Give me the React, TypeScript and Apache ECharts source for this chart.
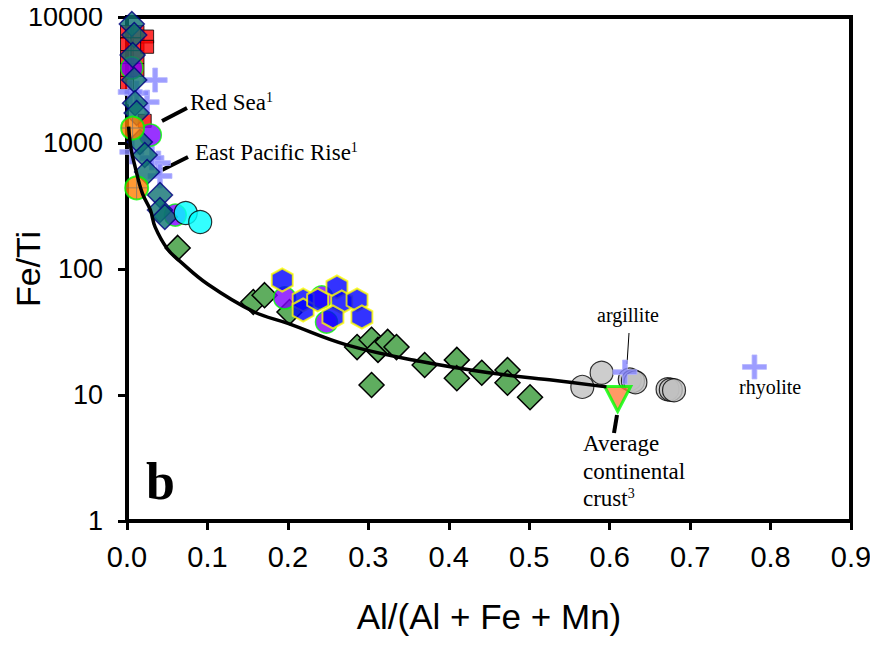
import React, { useEffect, useRef } from "react";
import * as echarts from "echarts";

// Tick labels
const xTicks = [0, 0.1, 0.2, 0.3, 0.4, 0.5, 0.6, 0.7, 0.8, 0.9];
const yTicks = [1, 10, 100, 1000, 10000];

// Mixing curve
const mixingCurve: number[][] = [
  [0.002, 1350], [0.005, 900], [0.010, 650], [0.019, 400], [0.029, 294], [0.035, 215],
  [0.05, 145], [0.066, 115], [0.1, 76], [0.157, 46], [0.2, 37], [0.273, 25],
  [0.364, 18.5], [0.45, 15], [0.525, 13.2], [0.596, 11.6],
];

const redSquares: number[][] = [
  [0, 7600], [0, 6100], [0, 4800], [0, 3800], [0, 3000],
  [0.013, 7600], [0.013, 6100], [0.013, 4800], [0.013, 3800],
  [0.025, 7000], [0.025, 5800], [0.022, 1500],
];

const blueCrosses: number[][] = [
  [0.035, 3160], [0.025, 2110], [0.012, 2490], [0.004, 2540],
  [0.039, 693], [0.041, 547], [0.031, 760], [0.006, 849],
];

const argilliteRhyolite: number[][] = [[0.619, 15.2], [0.78, 16.7]];

const purpleCircles: number[][] = [
  [0.006, 3940], [0.029, 1157], [0.060, 268],
  [0.196, 58.9], [0.242, 60], [0.248, 37.9],
];

const greenDiamonds: number[][] = [
  [0.063, 147], [0.157, 54.7], [0.171, 62], [0.202, 45.6],
  [0.286, 24], [0.304, 27.4], [0.312, 22.8], [0.324, 26.4], [0.335, 24],
  [0.304, 12], [0.370, 17.3], [0.410, 19], [0.410, 13.6], [0.441, 15],
  [0.473, 15.8], [0.473, 12.5], [0.501, 9.6],
];

const tealDiamonds: number[][] = [
  [0.006, 8800], [0.009, 7200], [0.007, 4990], [0.009, 3160], [0.010, 2070],
  [0.012, 1730], [0.016, 1020], [0.022, 804], [0.025, 589], [0.041, 386],
  [0.041, 294], [0.047, 259],
];

const cyanCircles: number[][] = [[0.073, 278], [0.091, 236]];

const orangeCircles: number[][] = [[0.007, 1315], [0.012, 440]];

const blueHexagons: number[][] = [
  [0.193, 81.8], [0.219, 56.8], [0.219, 47.3], [0.237, 56.8], [0.261, 72],
  [0.267, 54.7], [0.256, 41.6], [0.286, 56.8], [0.292, 41.6],
];

const grayCircles: number[][] = [
  [0.566, 11.6], [0.59, 15], [0.625, 13.3], [0.629, 12.9], [0.632, 12.6],
  [0.672, 11.1], [0.676, 11.0], [0.68, 10.9],
];

const crustTriangle: number[][] = [[0.61, 9.3]];

const SANS = "'Liberation Sans', Arial, sans-serif";
const SERIF = "'Liberation Serif', 'Times New Roman', serif";

const plusPath = "path://M4,0H6V4H10V6H6V10H4V6H0V4H4Z";
const thinPlusPath = "path://M9.6,0H10.4V20H9.6Z M0,9.6H20V10.4H0Z";
const hexPath = "path://M10,0L20,5.5L20,16.5L10,22L0,16.5L0,5.5Z";

export default function App() {
  const ref = useRef<HTMLDivElement>(null);
  useEffect(() => {
    if (!ref.current) return;
    const chart = echarts.init(ref.current, null, { renderer: "svg" });
    const sc = (name: string, data: number[][], symbol: string, size: any, item: any, extra: any = {}) => ({
      type: "scatter",
      name,
      data,
      symbol,
      symbolSize: size,
      itemStyle: item,
      clip: false,
      emphasis: { disabled: true },
      ...extra,
    });
    chart.setOption({
      animation: false,
      grid: {
        left: 127, right: 27, top: 17, bottom: 124,
        show: true, borderColor: "#000", borderWidth: 4,
        outerBoundsMode: "none",
      },
      xAxis: {
        type: "value", min: 0, max: 0.9, interval: 0.1,
        name: "Al/(Al + Fe + Mn)", nameLocation: "middle", nameGap: 78,
        nameMoveOverlap: false,
        nameTextStyle: { fontSize: 35, fontFamily: SANS, color: "#000" },
        axisLine: { show: true, onZero: false, lineStyle: { color: "#000", width: 4 } },
        axisTick: { show: true, inside: false, length: 9, lineStyle: { color: "#000", width: 3 } },
        axisLabel: {
          fontSize: 29, fontFamily: SANS, color: "#000", margin: 21,
          showMaxLabel: true, hideOverlap: false,
          formatter: (v: number) => (xTicks.includes(Math.round(v * 10) / 10) ? v.toFixed(1) : ""),
        },
        splitLine: { show: false },
      },
      yAxis: {
        type: "log", logBase: 10, min: yTicks[0], max: yTicks[yTicks.length - 1],
        name: "Fe/Ti", nameLocation: "middle", nameGap: 82,
        nameMoveOverlap: false,
        nameTextStyle: { fontSize: 34, fontFamily: SANS, color: "#000" },
        axisLine: { show: true, lineStyle: { color: "#000", width: 4 } },
        axisTick: { show: true, inside: false, length: 9, lineStyle: { color: "#000", width: 3 } },
        axisLabel: {
          fontSize: 27, fontFamily: SANS, color: "#000", margin: 24,
          formatter: (v: number) => String(Math.round(v)),
        },
        splitLine: { show: false },
        minorTick: { show: false },
      },
      series: [
        sc("red", redSquares, "rect", 13, { color: "#ff0000", borderColor: "#000", borderWidth: 1 }),
        sc("cross", blueCrosses, plusPath, 24, { color: "#8484ff", borderColor: "#b4b4ff", borderWidth: 1 }),
        sc("green", greenDiamonds, "diamond", 25, { color: "#5fad5f", borderColor: "#000", borderWidth: 1.5, opacity: 1 }),
        sc("purple", purpleCircles, "circle", 22, { color: "#8000ff", borderColor: "#00ff00", borderWidth: 1.5 }),
        sc("teal", tealDiamonds, "diamond", 25, { color: "#0e7272", borderColor: "#000080", borderWidth: 1.5 }),
        sc("cyan", cyanCircles, "circle", 23, { color: "#00ffff", borderColor: "#000", borderWidth: 1.2 }),
        sc("orange", orangeCircles, "circle", 23, { color: "#ff8000", borderColor: "#00ff00", borderWidth: 2 }),
        sc("orangeCross", orangeCircles, thinPlusPath, 22, { color: "#707070" }),
        sc("hex", blueHexagons, hexPath, [21, 23], { color: "#0000ff", borderColor: "#ffff00", borderWidth: 2 }),
        sc("gray", grayCircles, "circle", 23, { color: "#c0c0c0", borderColor: "#000", borderWidth: 1.2 }),
        sc("argRhy", argilliteRhyolite, plusPath, 24, { color: "#8484ff", borderColor: "#b4b4ff", borderWidth: 1 }),
        sc("crust", crustTriangle, "triangle", [26, 25], { color: "#ff7f3f", borderColor: "#00ff00", borderWidth: 3 }, { symbolRotate: 180 }),
        {
          type: "line", name: "mixing", data: mixingCurve, smooth: 0.4, showSymbol: false, symbol: "none",
          lineStyle: { color: "#000", width: 3.5 }, z: 5, emphasis: { disabled: true },
        },
      ],
      graphic: [
        { type: "line", shape: { x1: 162, y1: 121, x2: 187, y2: 108 }, style: { stroke: "#000", lineWidth: 4 } },
        { type: "line", shape: { x1: 162, y1: 170, x2: 188, y2: 157 }, style: { stroke: "#000", lineWidth: 4 } },
        { type: "line", shape: { x1: 629, y1: 333, x2: 627, y2: 364 }, style: { stroke: "#000", lineWidth: 1 } },
        { type: "line", shape: { x1: 617, y1: 415, x2: 614, y2: 433 }, style: { stroke: "#000", lineWidth: 4 } },
        {
          type: "text", x: 190, y: 90,
          style: {
            text: "{a|Red Sea}{s|1}", fill: "#000",
            rich: { a: { fontSize: 23, fontFamily: SERIF, lineHeight: 24 }, s: { fontSize: 14, fontFamily: SERIF, verticalAlign: "top", lineHeight: 24 } },
          },
        },
        {
          type: "text", x: 195, y: 140,
          style: {
            text: "{a|East Pacific Rise}{s|1}", fill: "#000",
            rich: { a: { fontSize: 23, fontFamily: SERIF, lineHeight: 24 }, s: { fontSize: 14, fontFamily: SERIF, verticalAlign: "top", lineHeight: 24 } },
          },
        },
        { type: "text", x: 597, y: 305, style: { text: "argillite", fontSize: 20, fontFamily: SERIF, fill: "#000" } },
        { type: "text", x: 739, y: 377, style: { text: "rhyolite", fontSize: 20, fontFamily: SERIF, fill: "#000" } },
        { type: "text", x: 583, y: 432, style: { text: "Average", fontSize: 23, fontFamily: SERIF, fill: "#000" } },
        { type: "text", x: 583, y: 460, style: { text: "continental", fontSize: 23, fontFamily: SERIF, fill: "#000" } },
        {
          type: "text", x: 583, y: 486,
          style: {
            text: "{a|crust}{s|3}", fill: "#000",
            rich: { a: { fontSize: 23, fontFamily: SERIF, lineHeight: 24 }, s: { fontSize: 14, fontFamily: SERIF, verticalAlign: "top", lineHeight: 24 } },
          },
        },
        { type: "text", x: 146, y: 455, style: { text: "b", fontSize: 52, fontWeight: "bold", fontFamily: SERIF, fill: "#000" } },
        { type: "text", x: -11, y: 565, style: { text: "9", fontSize: 36, fontFamily: SANS, fill: "#000" } },
      ],
    });
    return () => chart.dispose();
  }, []);
  return <div ref={ref} style={{ width: 878, height: 645, margin: -8, background: "#fff" }} />;
}
